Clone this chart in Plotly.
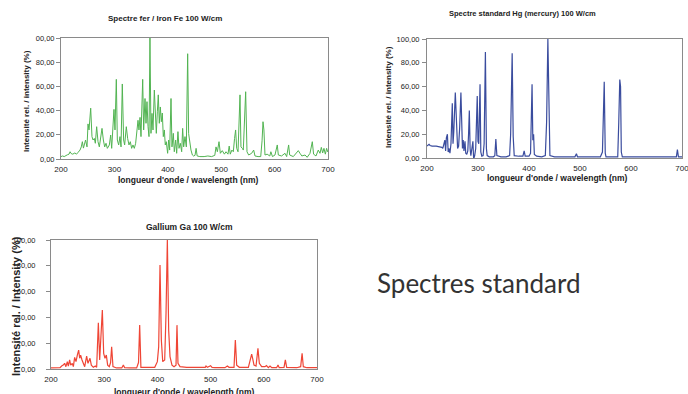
import plotly.graph_objects as go

# ---------------- data ----------------
fe_wl = [200, 203, 206, 209, 212, 215, 217, 219, 222, 226, 229, 232, 235.6, 238, 240, 242, 243.7, 246, 248.7,
         250.6, 252.5, 255.6, 258, 260, 262.4, 264.3, 266.8, 269.3, 271.8, 274.3, 276.8, 279.3, 281.8, 284.3,
         286.8, 290.5, 293, 294.9, 297.4, 299.2, 301.1, 303.6, 305.5, 308, 310.5, 312.4, 314.8, 317.3, 319.2,
         322.3, 324.8, 327.3, 329.8, 332.3, 334.8, 337.3, 339.8, 342.3, 344.2, 346, 348, 349.8, 353, 354.8,
         357.3, 359.2, 361, 363, 364.8, 366.6, 368.5, 370.4, 372.3, 374.8, 376.6, 378.5, 380.4, 382.2, 384.1,
         386, 387.9, 389.7, 391.6, 393.5, 395.3, 397.2, 399.7, 401.6, 403.5, 406, 407.8, 410.3, 412.2, 414.7,
         416.6, 419, 421, 423.4, 426, 427.8, 429.7, 432.2, 434.7, 437.2, 439, 440.9, 443.4, 446, 448, 451, 453,
         455, 460, 468, 475, 482, 488, 490.3, 492.8, 495.9, 498.4, 502, 506, 509, 512.7, 515, 517, 520, 522.7,
         525, 527, 529, 531.5, 535.2, 537, 539.6, 541.4, 545.8, 548.3, 551.4, 557, 560.8, 563.3, 569, 574,
         576.5, 578.3, 580, 582, 586, 591, 593, 596, 600.7, 605, 607, 613, 619.5, 622.6, 626.3, 628.2, 635,
         641.3, 644.4, 647.5, 651, 657, 661, 666.3, 670.6, 673, 677.5, 681.8, 685, 687.5, 690, 692.4, 695,
         697.4, 699.3, 700]
fe_int = [2, 2.5, 2, 3, 3.5, 4, 6, 4.5, 4, 5, 4, 5.5, 7.4, 10, 14.3, 9, 11.6, 15.7, 10,
          29, 24, 42, 18.5, 15.7, 17, 13, 26.7, 14.3, 10, 18.5, 25.3, 15.7, 10, 13,
          8.8, 11.6, 19.8, 8.8, 26.7, 41, 24, 65.8, 15.7, 11.6, 18.5, 10, 62, 15.7, 11.6,
          26.7, 17, 11.6, 14.3, 8.8, 11.6, 8.8, 13, 28, 32, 24, 34.4, 18.5, 65.8, 24,
          50, 29.5, 47.4, 26.7, 18.5, 100, 21.2, 37.7, 24, 57, 35, 21.2, 39, 53, 29.5,
          43, 30.8, 38, 18.5, 24, 11.6, 14.3, 4.7, 15.7, 7.4, 50, 10, 21.2, 6, 15.7,
          4.7, 22.6, 8.8, 13, 6, 25.3, 10, 18.5, 10, 87, 21, 14.3, 7.4, 3.3, 2.5, 3, 8.8,
          2.5, 2, 2, 2.5, 2, 3, 10, 6, 14.3, 4.7, 6.9, 4, 6, 4, 10.7, 4, 7.4, 6,
          17, 24, 8.8, 6, 53, 10, 8.8, 7.4, 55.6, 6, 3.3, 4.7, 7.4, 2.5, 2, 2,
          15, 30.8, 24, 3.3, 4, 2.5, 6, 2, 3.3, 11.6, 3.3, 2.5, 4.7, 2, 11.6, 3.3, 2,
          4.7, 6.9, 4.7, 2.5, 3.3, 1.4, 4.7, 14.3, 4, 2.5, 7.4, 4.7, 9.6, 5, 8.8, 4,
          8.8, 6, 7]

hg_wl = [200, 202, 204, 206, 210, 218, 225, 229, 231, 233, 235, 236.5, 238, 240, 241.5, 243, 245, 247, 249.6,
         251, 252.5, 255.5, 257, 258.5, 260, 262, 264, 266.5, 268, 269.5, 271, 272.5, 274.5, 276, 278, 280,
         281.5, 283, 284.5, 286, 288, 290, 291.5, 293.5, 295.5, 298.5, 300, 301.5, 304, 305.5, 307.5, 310, 312,
         314.5, 316.5, 318, 322, 330, 333, 335, 337, 345, 355, 362, 364, 367, 369, 371, 380, 388, 390.5, 392.5,
         400, 403, 406, 407.5, 409, 410.5, 415, 425, 432, 434.5, 437, 439, 441, 450, 470, 490, 493, 495, 520,
         540, 544, 547.5, 549.5, 551, 565, 574, 576, 578, 579.5, 581, 583, 620, 650, 680, 689, 691, 693, 700]
hg_int = [10, 10.5, 11.5, 10.5, 10, 10, 9.5, 9, 8, 11, 15, 6, 17, 20, 5, 8, 4, 12, 46,
          12, 22, 55, 38, 18, 8, 10, 25, 55, 18, 8, 15, 6, 14, 4, 3, 6,
          20, 40, 8, 2, 8, 14, -1, 2, 8, 52, 14, 12, 62, 5, 1.5, 2, 12,
          89, 8, 2, 1, 1, 2, 16, 2, 1, 1, 2, 20, 88, 18, 2, 1.5, 1.5, 6, 1.5,
          1.5, 4, 62, 15, 20, 3, 1.5, 1, 2, 30, 100, 25, 2, 1, 1, 1, 3.6, 1, 1,
          1, 5, 64, 4, 1, 1, 1, 30, 66, 60, 5, 1, 1, 1, 1, 1, 7, 1, 1]

ga_wl = [200, 210, 217, 220, 223, 225.7, 228, 230.7, 232.6, 235, 237, 240, 242, 244.5, 247, 249.5, 252, 253.9,
         255.7, 258.3, 260.8, 263.3, 267, 269.5, 273.3, 275.8, 279.6, 283.3, 285.8, 289, 291.5, 294, 296.5,
         299, 301.5, 304, 306.5, 309.6, 312, 314, 316.5, 323, 333, 336, 338.5, 348, 361, 364.5, 366.7, 369,
         380, 395, 399.9, 402.4, 404.9, 407.4, 410, 413.7, 416.2, 418.7, 421.2, 423.7, 427.4, 431.2, 435,
         436.8, 438.7, 442.5, 455, 470, 490, 491.4, 494, 500, 502.7, 508, 527, 531.5, 534.6, 544, 546.5,
         549, 554, 571, 574.7, 577.2, 579, 581.6, 585.4, 589, 591.6, 596, 602, 605, 608.5, 611.7, 615, 624,
         626.7, 629, 638, 640.5, 643, 662, 669.3, 672, 674.3, 681, 700]
ga_int = [0.8, 0.8, 1, 2.3, 3, 4.4, 1.8, 5.7, 2.3, 7, 3, 4.4, 1.8, 9, 5.7, 10.8, 14.7, 8.3,
          10.8, 7, 4.4, 1.8, 10, 4.4, 8.3, 3, 1.3, 2.3, 1.3, 35.9, 7, 30, 45.7,
          12, 8.3, 10.8, 3, 1.8, 5, 17.3, 1.8, 0.8, 0.8, 3, 1, 0.8, 0.8, 5, 34, 1.3,
          1.3, 1.3, 5.7, 17.3, 80.6, 22.5, 5.7, 7, 43, 100, 30, 9.6, 3, 1.8, 3,
          34, 4.4, 1.8, 1.3, 1.3, 1.3, 2.3, 1.3, 2.6, 1.3, 1, 1, 2.3, 1.3, 1.3, 22.5,
          3, 1.3, 1.3, 8.3, 11.6, 8.3, 3, 2.3, 16, 4.4, 1.8, 1.8, 2.6, 1, 2.3, 1, 1,
          3, 1, 1.3, 7, 1.3, 1, 1.8, 12.2, 1.8, 1, 1]

x_ticks = [200, 300, 400, 500, 600, 700]
x_ticktext = ["200", "300", "400", "500", "600", "700"]
y_ticks = [0, 20, 40, 60, 80, 100]
y_ticktext_fe = ["0,00", "20,00", "40,00", "60,00", "80,00", "00,00"]
y_ticktext = ["0,00", "20,00", "40,00", "60,00", "80,00", "100,00"]

title_fe = "Spectre fer / Iron Fe 100 W/cm"
title_hg = "Spectre standard Hg (mercury) 100 W/cm"
title_ga = "Gallium Ga 100 W/cm"
x_title = "longueur d'onde / wavelength (nm)"
y_title = "Intensité rel. / intensity (%)"
y_title_ga = "Intensité rel. / Intensity (%)"
caption = "Spectres standard"

# ---------------- layout helpers ----------------
W, H = 688, 394
def px(x):
    return x / W
def py(y):
    return 1 - y / H

FONT = "Liberation Sans, Arial, sans-serif"
AXC = "#8a8a8a"

fig = go.Figure()
fig.add_trace(go.Scatter(x=fe_wl, y=fe_int, mode="lines", line=dict(color="#52b452", width=1),
                         xaxis="x", yaxis="y", showlegend=False, hoverinfo="skip"))
fig.add_trace(go.Scatter(x=hg_wl, y=hg_int, mode="lines", line=dict(color="#3a4c9e", width=1.2),
                         xaxis="x2", yaxis="y2", showlegend=False, hoverinfo="skip"))
fig.add_trace(go.Scatter(x=ga_wl, y=ga_int, mode="lines", line=dict(color="#ef4535", width=1.2),
                         xaxis="x3", yaxis="y3", showlegend=False, hoverinfo="skip"))

def xaxis(dom, anchor):
    return dict(domain=dom, anchor=anchor, range=[200, 700], tickvals=x_ticks, ticktext=x_ticktext,
                showgrid=False, zeroline=False, showline=True, mirror=True, linecolor=AXC, linewidth=1,
                ticks="", ticklabelstandoff=2, automargin=False, ticklabeloverflow="allow",
                tickfont=dict(family=FONT, size=8, color="#222"), fixedrange=True)

def yaxis(dom, anchor, ttext, standoff, tsize=7.5):
    return dict(domain=dom, anchor=anchor, range=[0, 100], tickvals=y_ticks, ticktext=ttext,
                showgrid=False, zeroline=False, showline=True, mirror=True, linecolor=AXC, linewidth=1,
                ticks="outside", ticklen=4, tickcolor=AXC, ticklabelstandoff=standoff, automargin=False,
                ticklabeloverflow="allow",
                tickfont=dict(family=FONT, size=tsize, color="#222"), fixedrange=True)

fig.update_layout(
    width=W, height=H, margin=dict(l=0, r=0, t=0, b=0, autoexpand=False),
    paper_bgcolor="white", plot_bgcolor="white",
    xaxis=xaxis([px(61), px(328)], "y"),
    yaxis=yaxis([py(159), py(38)], "x", y_ticktext_fe, 0),
    xaxis2=xaxis([px(427), px(682)], "y2"),
    yaxis2=yaxis([py(158), py(39)], "x2", y_ticktext, 1),
    xaxis3=xaxis([px(51), px(317)], "y3"),
    yaxis3=yaxis([py(369), py(240)], "x3", y_ticktext, 9),
)

def ann(text, x, y, size, angle=0, bold=True, family=FONT, color="#222"):
    fig.add_annotation(text=("<b>%s</b>" % text) if bold else text, x=px(x), y=py(y),
                       xref="paper", yref="paper", showarrow=False, textangle=angle,
                       xanchor="center", yanchor="middle",
                       font=dict(family=family, size=size, color=color))

ann(title_fe, 165, 18, 8)
ann(title_hg, 522, 14, 7.5)
ann(title_ga, 189, 227, 8.5)
ann(x_title, 188, 180, 8.5)
ann(x_title, 557, 178, 8.5)
ann(x_title, 185, 392, 8.5)
ann(y_title, 27, 101, 8, angle=-90)
ann(y_title, 388, 97, 8, angle=-90)
ann(y_title_ga, 16, 306, 11, angle=-90)
ann(caption, 478, 283, 26, bold=False, family="Lato, Open Sans, sans-serif", color="#333")

fig.write_html("out.html", config={"displayModeBar": False, "staticPlot": True},
               post_script="document.body.style.margin='0';document.body.style.overflow='hidden';")
